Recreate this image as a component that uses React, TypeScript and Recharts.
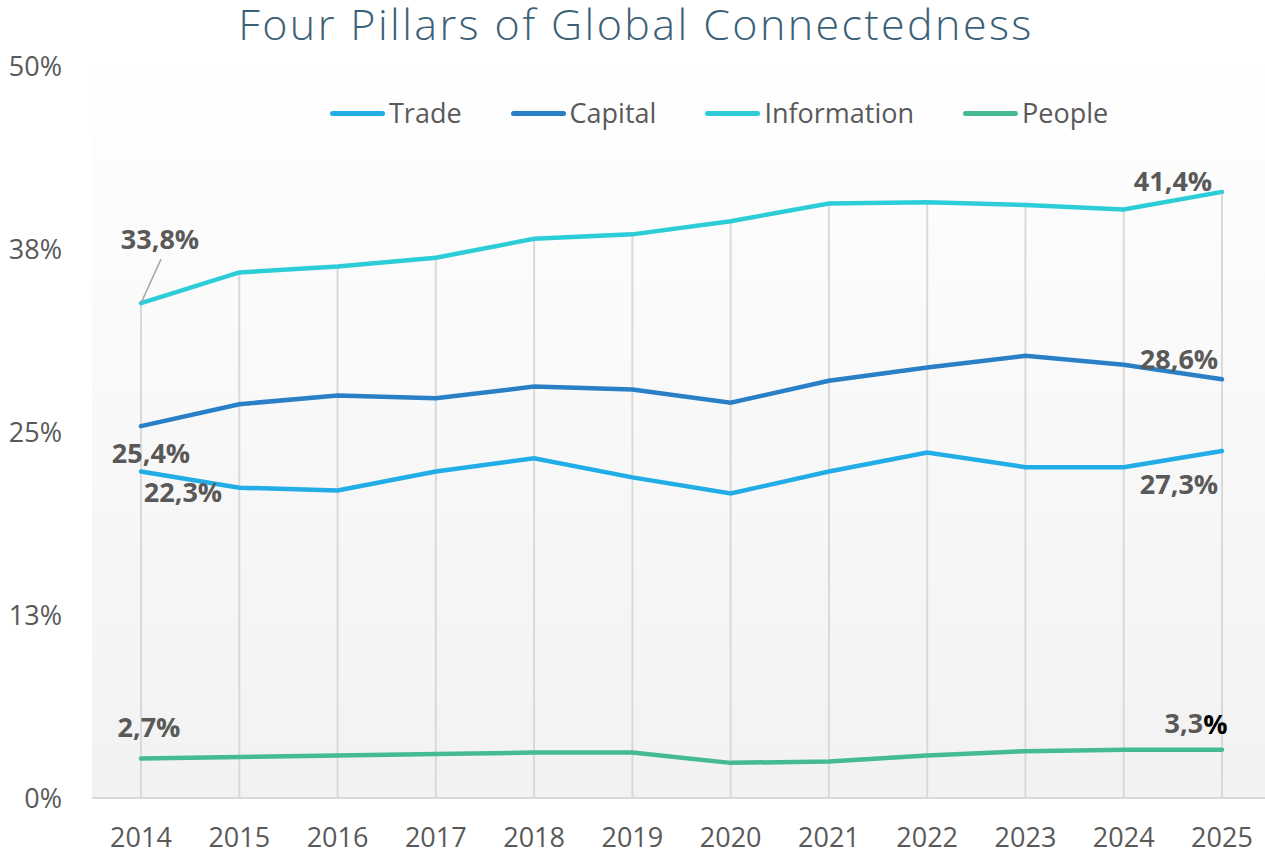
import { LineChart, Line, XAxis, YAxis, CartesianGrid, ReferenceLine, LabelList } from "recharts";

const years = ["2014", "2015", "2016", "2017", "2018", "2019", "2020", "2021", "2022", "2023", "2024", "2025"];
const trade = [22.3, 21.2, 21.0, 22.3, 23.2, 21.9, 20.8, 22.3, 23.6, 22.6, 22.6, 23.7];
const capital = [25.4, 26.9, 27.5, 27.3, 28.1, 27.9, 27.0, 28.5, 29.4, 30.2, 29.6, 28.6];
const information = [33.8, 35.9, 36.3, 36.9, 38.2, 38.5, 39.4, 40.6, 40.7, 40.5, 40.2, 41.4];
const people = [2.7, 2.8, 2.9, 3.0, 3.1, 3.1, 2.4, 2.5, 2.9, 3.2, 3.3, 3.3];
const yTicks = [0, 12.5, 25, 37.5, 50];

// end-point labels as printed on the chart: [first year, last year]
const tradeLabels = ["22,3%", "27,3%"];
const capitalLabels = ["25,4%", "28,6%"];
const informationLabels = ["33,8%", "41,4%"];
const peopleLabels = ["2,7%", "3,3%"];

const data = years.map((year, i) => ({
  year,
  trade: trade[i],
  capital: capital[i],
  information: information[i],
  people: people[i],
}));

const GREY = "#595959";

type Offsets = { first: [number, number]; last: [number, number] };

const series = [
  { key: "trade", name: "Trade", color: "#22ADE6", labels: tradeLabels, off: { first: [42, 20], last: [-43, 32] } as Offsets },
  { key: "capital", name: "Capital", color: "#2A80C6", labels: capitalLabels, off: { first: [10, 26], last: [-43, -21] } as Offsets },
  { key: "information", name: "Information", color: "#2DCDD8", labels: informationLabels, off: { first: [19, -65], last: [-49, -11] } as Offsets },
  { key: "people", name: "People", color: "#45BB93", labels: peopleLabels, off: { first: [8, -32], last: [-26, -27] } as Offsets },
];

const lastIdx = years.length - 1;

function endLabel(s: (typeof series)[number]) {
  return (props: any) => {
    const index = props.index;
    if (index !== 0 && index !== lastIdx) return null;
    const x = props.x ?? props.viewBox?.x;
    const y = props.y ?? props.viewBox?.y;
    const [dx, dy] = index === 0 ? s.off.first : s.off.last;
    const text = index === 0 ? s.labels[0] : s.labels[1];
    const blackPct = s.key === "people" && index === lastIdx;
    return (
      <g key={`${s.key}-${index}`}>
        {s.key === "information" && index === 0 && (
          <line x1={x + 20} y1={y - 44} x2={x} y2={y} stroke="#A6A6A6" strokeWidth={1.5} />
        )}
        <text
          x={x + dx}
          y={y + dy}
          textAnchor="middle"
          dominantBaseline="central"
          fontSize={27}
          fontWeight={700}
          fill={GREY}
          fontFamily="'Open Sans', sans-serif"
        >
          {blackPct ? (
            <>
              {text.slice(0, -1)}
              <tspan fill="#000">%</tspan>
            </>
          ) : (
            text
          )}
        </text>
      </g>
    );
  };
}

export default function App() {
  return (
    <div
      style={{
        position: "absolute",
        left: 0,
        top: 0,
        width: 1265,
        height: 854,
        overflow: "hidden",
        background: "#fff",
        fontFamily: "'Open Sans', sans-serif",
      }}
    >
      <div
        style={{
          position: "absolute",
          top: 0,
          left: 0,
          width: 1265,
          boxSizing: "border-box",
          paddingLeft: 7,
          textAlign: "center",
          fontSize: 43,
          lineHeight: "48px",
          letterSpacing: 2.4,
          fontWeight: 300,
          color: "#3B6178",
        }}
      >
        Four Pillars of Global Connectedness
      </div>
      <div
        style={{
          position: "absolute",
          top: 96,
          left: 330,
          display: "flex",
          alignItems: "center",
          gap: 49,
          fontSize: 27,
          lineHeight: "34px",
          color: GREY,
          zIndex: 2,
        }}
      >
        {series.map((s) => (
          <div key={s.key} style={{ display: "flex", alignItems: "center" }}>
            <span style={{ display: "inline-block", width: 55, height: 5, borderRadius: 3, background: s.color, marginRight: 4 }} />
            <span>{s.name}</span>
          </div>
        ))}
      </div>
      <LineChart width={1275} height={854} data={data} margin={{ top: 66, right: 4, bottom: 0, left: 0 }}>
        <defs>
          <linearGradient id="plotBg" x1="0" y1="0" x2="0" y2="1">
            <stop offset="0%" stopColor="#FFFFFF" />
            <stop offset="13%" stopColor="#FDFDFD" />
            <stop offset="100%" stopColor="#F2F2F2" />
          </linearGradient>
        </defs>
        <CartesianGrid horizontal={false} vertical={false} fill="url(#plotBg)" />
        <XAxis
          dataKey="year"
          padding={{ left: 49, right: 49 }}
          height={56}
          tickLine={false}
          tickMargin={24}
          axisLine={{ stroke: "#D9D9D9", strokeWidth: 2 }}
          tick={{ fontSize: 27, fill: GREY }}
          interval={0}
        />
        <YAxis
          domain={[0, 50]}
          ticks={yTicks}
          width={92}
          axisLine={false}
          tickLine={false}
          tickMargin={24}
          tick={{ fontSize: 27, fill: GREY }}
          tickFormatter={(v: number) => `${Math.round(v)}%`}
        />
        {data.map((d) => (
          <ReferenceLine
            key={d.year}
            segment={[
              { x: d.year, y: 0 },
              { x: d.year, y: d.information },
            ]}
            stroke="#D9D9D9"
            strokeWidth={2}
          />
        ))}
        {series.map((s) => (
          <Line
            key={s.key}
            type="linear"
            dataKey={s.key}
            name={s.name}
            stroke={s.color}
            strokeWidth={4.5}
            strokeLinecap="round"
            dot={false}
            activeDot={false}
            isAnimationActive={false}
          >
            <LabelList dataKey={s.key} content={endLabel(s)} />
          </Line>
        ))}
      </LineChart>
    </div>
  );
}
